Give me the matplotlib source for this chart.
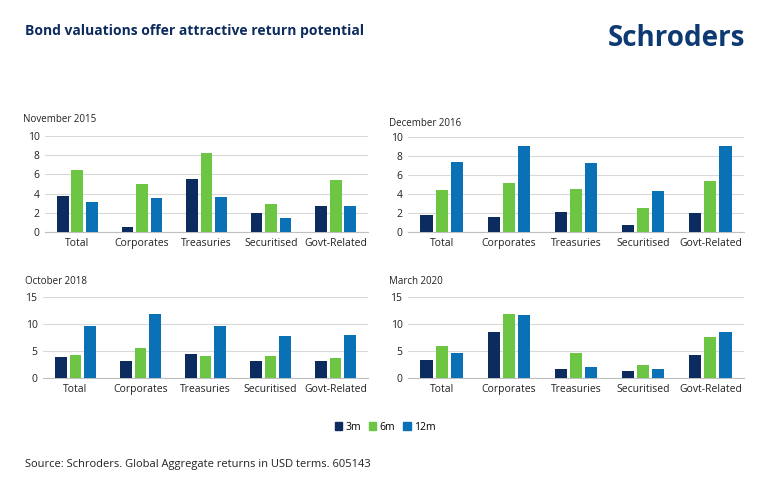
import numpy as np
import matplotlib.pyplot as plt

plt.rcParams['font.family'] = ['Open Sans', 'DejaVu Sans']

categories = ["Total", "Corporates", "Treasuries", "Securitised", "Govt-Related"]
series = ["3m", "6m", "12m"]
colors = ["#0c2b5e", "#6cc644", "#0b71b6"]

nov_2015 = [[3.7, 0.55, 5.5, 1.95, 2.7],
            [6.45, 4.95, 8.2, 2.95, 5.45],
            [3.15, 3.5, 3.6, 1.5, 2.7]]
dec_2016 = [[1.8, 1.6, 2.1, 0.75, 1.95],
            [4.4, 5.2, 4.5, 2.5, 5.35],
            [7.35, 9.05, 7.3, 4.35, 9.1]]
oct_2018 = [[3.85, 3.15, 4.45, 3.2, 3.2],
            [4.3, 5.55, 4.0, 4.1, 3.65],
            [9.55, 11.8, 9.6, 7.8, 8.05]]
mar_2020 = [[3.25, 8.55, 1.75, 1.35, 4.25],
            [6.0, 11.9, 4.7, 2.4, 7.55],
            [4.65, 11.7, 2.05, 1.65, 8.5]]

W, H = 770, 491
fig = plt.figure(figsize=(W / 100, H / 100), dpi=100)
navy = "#0c2b5e"


def px_axes(x0, y0, x1, y1):
    # y0 is top pixel, y1 is bottom pixel
    return fig.add_axes([x0 / W, 1 - y1 / H, (x1 - x0) / W, (y1 - y0) / H])


panels = [
    ("November 2015", nov_2015, (45, 136, 368, 232), 10, 2, (23, 120)),
    ("December 2016", dec_2016, (408, 137, 744, 232), 10, 2, (389, 124)),
    ("October 2018", oct_2018, (43, 297, 368, 378), 15, 5, (25, 281)),
    ("March 2020", mar_2020, (408, 297, 744, 378), 15, 5, (389, 281)),
]

x = np.arange(len(categories))
bw = 0.18
step = 0.225
for title, vals, box, ymax, ystep, tpos in panels:
    ax = px_axes(*box)
    for i, s in enumerate(series):
        ax.bar(x + (i - 1) * step, vals[i], width=bw, color=colors[i], label=s, zorder=3)
    ax.set_ylim(0, ymax)
    ax.set_xlim(-0.5, 4.5)
    ax.set_yticks(np.arange(0, ymax + 0.1, ystep))
    ax.set_xticks(x)
    ax.set_xticklabels(categories)
    ax.grid(axis='y', color="#d9d9d9", linewidth=0.8, zorder=0)
    for sp in ["top", "right", "left"]:
        ax.spines[sp].set_visible(False)
    ax.spines["bottom"].set_color("#bfbfbf")
    ax.tick_params(length=0, labelsize=7.5, colors="#222222", pad=4)
    fig.text(tpos[0] / W, 1 - tpos[1] / H, title, fontsize=7, color="#222222", va='center')

handles = [plt.Rectangle((0, 0), 1, 1, color=c) for c in colors]
fig.legend(handles, series, loc='center', bbox_to_anchor=(385 / W, 1 - 427 / H), ncol=3,
           frameon=False, fontsize=7.5, handlelength=0.7, handleheight=0.7,
           handletextpad=0.3, columnspacing=0.8)

fig.text(25 / W, 1 - 31 / H, "Bond valuations offer attractive return potential",
         fontsize=10, fontweight='bold', color=navy, va='center')
fig.text(745 / W, 1 - 38 / H, "Schroders", fontsize=20, fontweight='bold',
         color="#0e3a73", ha='right', va='center')
fig.text(25 / W, 1 - 465 / H, "Source: Schroders. Global Aggregate returns in USD terms. 605143",
         fontsize=8, color="#222222", va='center')

fig.savefig("out.png", dpi=100, facecolor='white')
